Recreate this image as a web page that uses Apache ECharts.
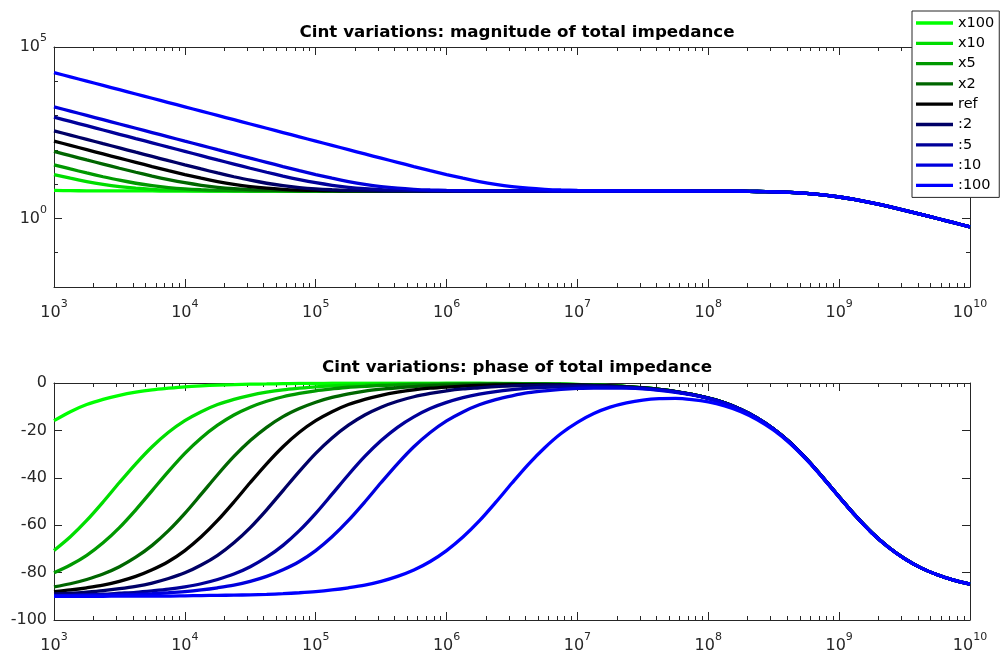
<!DOCTYPE html>
<html>
<head>
<meta charset="utf-8">
<script src="https://cdn.jsdelivr.net/npm/echarts@6/dist/echarts.min.js"></script>
<style>
  html, body { margin: 0; padding: 0; background: #fff; }
  #main { width: 1000px; height: 655px; }
</style>
</head>
<body>
<div id="main"></div>
<script>
// frequency as exponent of 10 (Hz), one row per decade
var logFreq = [
    3, 3.125, 3.25, 3.375, 3.5, 3.625, 3.75, 3.875,
    4, 4.125, 4.25, 4.375, 4.5, 4.625, 4.75, 4.875,
    5, 5.125, 5.25, 5.375, 5.5, 5.625, 5.75, 5.875,
    6, 6.125, 6.25, 6.375, 6.5, 6.625, 6.75, 6.875,
    7, 7.125, 7.25, 7.375, 7.5, 7.625, 7.75, 7.875,
    8, 8.125, 8.25, 8.375, 8.5, 8.625, 8.75, 8.875,
    9, 9.125, 9.25, 9.375, 9.5, 9.625, 9.75, 9.875,
    10];

var names = ['x100', 'x10', 'x5', 'x2', 'ref', ':2', ':5', ':10', ':100'];
var colors = ['#00ff00', '#00dd00', '#009900', '#006600', '#000000', '#000066', '#000099', '#0000dd', '#0000ff'];

// tick values
var magLabels = [0, 5];
var magMinor = [-1, 1, 2, 3, 4];

// log10 |Z|, upper plot
var magX100 = [
    0.817, 0.810, 0.806, 0.803, 0.802, 0.801, 0.801, 0.8,
    0.8, 0.8, 0.8, 0.8, 0.8, 0.8, 0.8, 0.8,
    0.8, 0.8, 0.8, 0.8, 0.8, 0.8, 0.8, 0.8,
    0.8, 0.8, 0.8, 0.8, 0.8, 0.8, 0.8, 0.8,
    0.8, 0.8, 0.8, 0.8, 0.8, 0.8, 0.799, 0.798,
    0.797, 0.795, 0.792, 0.785, 0.775, 0.757, 0.728, 0.685,
    0.625, 0.548, 0.455, 0.350, 0.237, 0.119, -0.002, -0.124,
    -0.248];
var magX10 = [
    1.280, 1.173, 1.076, 0.994, 0.929, 0.882, 0.850, 0.829,
    0.817, 0.810, 0.806, 0.803, 0.802, 0.801, 0.801, 0.8,
    0.8, 0.8, 0.8, 0.8, 0.8, 0.8, 0.8, 0.8,
    0.8, 0.8, 0.8, 0.8, 0.8, 0.8, 0.8, 0.8,
    0.8, 0.8, 0.8, 0.8, 0.8, 0.8, 0.799, 0.798,
    0.797, 0.795, 0.792, 0.785, 0.775, 0.757, 0.728, 0.685,
    0.625, 0.548, 0.455, 0.350, 0.237, 0.119, -0.002, -0.124,
    -0.248];
var magX5 = [
    1.563, 1.443, 1.326, 1.216, 1.114, 1.026, 0.954, 0.899,
    0.861, 0.837, 0.821, 0.812, 0.807, 0.804, 0.802, 0.801,
    0.801, 0.8, 0.8, 0.8, 0.8, 0.8, 0.8, 0.8,
    0.8, 0.8, 0.8, 0.8, 0.8, 0.8, 0.8, 0.8,
    0.8, 0.8, 0.8, 0.8, 0.8, 0.8, 0.799, 0.798,
    0.797, 0.795, 0.792, 0.785, 0.775, 0.757, 0.728, 0.685,
    0.625, 0.548, 0.455, 0.350, 0.237, 0.119, -0.002, -0.124,
    -0.248];
var magX2 = [
    1.956, 1.831, 1.707, 1.585, 1.464, 1.347, 1.235, 1.132,
    1.041, 0.966, 0.908, 0.867, 0.840, 0.824, 0.814, 0.808,
    0.804, 0.803, 0.801, 0.801, 0.8, 0.8, 0.8, 0.8,
    0.8, 0.8, 0.8, 0.8, 0.8, 0.8, 0.8, 0.8,
    0.8, 0.8, 0.8, 0.8, 0.8, 0.8, 0.799, 0.798,
    0.797, 0.795, 0.792, 0.785, 0.775, 0.757, 0.728, 0.685,
    0.625, 0.548, 0.455, 0.350, 0.237, 0.119, -0.002, -0.124,
    -0.248];
var magRef = [
    2.255, 2.131, 2.006, 1.882, 1.758, 1.635, 1.513, 1.395,
    1.280, 1.173, 1.076, 0.994, 0.929, 0.882, 0.850, 0.829,
    0.817, 0.810, 0.806, 0.803, 0.802, 0.801, 0.801, 0.8,
    0.8, 0.8, 0.8, 0.8, 0.8, 0.8, 0.8, 0.8,
    0.8, 0.8, 0.8, 0.8, 0.8, 0.8, 0.799, 0.798,
    0.797, 0.795, 0.792, 0.785, 0.775, 0.757, 0.728, 0.685,
    0.625, 0.548, 0.455, 0.350, 0.237, 0.119, -0.002, -0.124,
    -0.248];
var magD2 = [
    2.556, 2.431, 2.306, 2.181, 2.057, 1.932, 1.808, 1.685,
    1.563, 1.443, 1.326, 1.216, 1.114, 1.026, 0.954, 0.899,
    0.861, 0.837, 0.821, 0.812, 0.807, 0.804, 0.802, 0.801,
    0.801, 0.8, 0.8, 0.8, 0.8, 0.8, 0.8, 0.8,
    0.8, 0.8, 0.8, 0.8, 0.8, 0.8, 0.799, 0.798,
    0.797, 0.795, 0.792, 0.785, 0.775, 0.757, 0.728, 0.685,
    0.625, 0.548, 0.455, 0.350, 0.237, 0.119, -0.002, -0.124,
    -0.248];
var magD5 = [
    2.954, 2.829, 2.704, 2.579, 2.454, 2.329, 2.205, 2.080,
    1.956, 1.831, 1.707, 1.585, 1.464, 1.347, 1.235, 1.132,
    1.041, 0.966, 0.908, 0.867, 0.840, 0.824, 0.814, 0.808,
    0.804, 0.803, 0.801, 0.801, 0.8, 0.8, 0.8, 0.8,
    0.8, 0.8, 0.8, 0.8, 0.8, 0.8, 0.799, 0.798,
    0.797, 0.795, 0.792, 0.785, 0.775, 0.757, 0.728, 0.685,
    0.625, 0.548, 0.455, 0.350, 0.237, 0.119, -0.002, -0.124,
    -0.248];
var magD10 = [
    3.255, 3.130, 3.005, 2.880, 2.755, 2.630, 2.505, 2.380,
    2.255, 2.131, 2.006, 1.882, 1.758, 1.635, 1.513, 1.395,
    1.280, 1.173, 1.076, 0.994, 0.929, 0.882, 0.850, 0.829,
    0.817, 0.810, 0.806, 0.803, 0.802, 0.801, 0.801, 0.8,
    0.8, 0.8, 0.8, 0.8, 0.8, 0.8, 0.799, 0.798,
    0.797, 0.795, 0.792, 0.785, 0.775, 0.757, 0.728, 0.685,
    0.625, 0.548, 0.455, 0.350, 0.237, 0.119, -0.002, -0.124,
    -0.248];
var magD100 = [
    4.255, 4.130, 4.005, 3.880, 3.755, 3.630, 3.505, 3.380,
    3.255, 3.130, 3.005, 2.880, 2.755, 2.630, 2.505, 2.380,
    2.255, 2.131, 2.006, 1.882, 1.758, 1.635, 1.513, 1.395,
    1.280, 1.173, 1.076, 0.994, 0.929, 0.882, 0.850, 0.829,
    0.817, 0.810, 0.806, 0.803, 0.801, 0.801, 0.800, 0.799,
    0.797, 0.795, 0.792, 0.785, 0.775, 0.757, 0.728, 0.685,
    0.625, 0.548, 0.455, 0.350, 0.237, 0.119, -0.002, -0.124,
    -0.248];

// phase in degrees, lower plot
var phX100 = [
    -15.9, -12.1, -9.1, -6.9, -5.2, -3.9, -2.9, -2.2,
    -1.6, -1.2, -0.9, -0.7, -0.5, -0.4, -0.3, -0.2,
    -0.2, -0.1, -0.1, -0.1, -0.1, -0.1, -0.1, -0.1,
    -0.1, -0.1, -0.1, -0.2, -0.2, -0.3, -0.4, -0.5,
    -0.6, -0.9, -1.1, -1.5, -2.0, -2.7, -3.6, -4.8,
    -6.4, -8.4, -11.2, -14.8, -19.4, -25.1, -32.0, -39.8,
    -48.0, -56.0, -63.2, -69.2, -74.1, -78.0, -80.9, -83.2,
    -84.9];
var phX10 = [
    -70.7, -64.9, -58.0, -50.2, -42.0, -34.1, -26.9, -20.8,
    -15.9, -12.1, -9.1, -6.9, -5.2, -3.9, -2.9, -2.2,
    -1.6, -1.2, -0.9, -0.7, -0.5, -0.4, -0.3, -0.3,
    -0.2, -0.2, -0.2, -0.2, -0.3, -0.3, -0.4, -0.5,
    -0.7, -0.9, -1.1, -1.5, -2.0, -2.7, -3.6, -4.8,
    -6.4, -8.4, -11.2, -14.8, -19.4, -25.1, -32.0, -39.8,
    -48.0, -56.0, -63.2, -69.2, -74.1, -78.0, -80.9, -83.2,
    -84.9];
var phX5 = [
    -80.1, -76.8, -72.7, -67.4, -61.0, -53.5, -45.4, -37.3,
    -29.7, -23.2, -17.8, -13.5, -10.2, -7.7, -5.8, -4.4,
    -3.3, -2.5, -1.8, -1.4, -1.0, -0.8, -0.6, -0.5,
    -0.4, -0.3, -0.3, -0.3, -0.3, -0.4, -0.4, -0.5,
    -0.7, -0.9, -1.1, -1.5, -2.0, -2.7, -3.6, -4.8,
    -6.4, -8.4, -11.2, -14.8, -19.4, -25.1, -32.0, -39.8,
    -48.0, -56.0, -63.2, -69.2, -74.1, -78.0, -80.9, -83.2,
    -84.9];
var phX2 = [
    -86.0, -84.7, -82.9, -80.6, -77.5, -73.5, -68.5, -62.3,
    -55.0, -46.9, -38.7, -31.0, -24.3, -18.7, -14.2, -10.8,
    -8.1, -6.1, -4.6, -3.4, -2.6, -2.0, -1.5, -1.1,
    -0.9, -0.7, -0.6, -0.5, -0.5, -0.5, -0.5, -0.6,
    -0.7, -0.9, -1.2, -1.5, -2.0, -2.7, -3.6, -4.8,
    -6.4, -8.4, -11.2, -14.8, -19.4, -25.1, -32.0, -39.8,
    -48.0, -56.0, -63.2, -69.2, -74.1, -78.0, -80.9, -83.2,
    -84.9];
var phRef = [
    -88.0, -87.3, -86.4, -85.3, -83.7, -81.6, -78.8, -75.3,
    -70.7, -64.9, -58.0, -50.2, -42.0, -34.1, -26.9, -20.8,
    -15.9, -12.1, -9.1, -6.9, -5.2, -3.9, -2.9, -2.2,
    -1.7, -1.3, -1.0, -0.8, -0.7, -0.7, -0.7, -0.7,
    -0.8, -1.0, -1.2, -1.6, -2.1, -2.7, -3.6, -4.8,
    -6.4, -8.4, -11.2, -14.8, -19.4, -25.1, -32.0, -39.8,
    -48.0, -56.0, -63.2, -69.2, -74.1, -78.0, -80.9, -83.2,
    -84.9];
var phD2 = [
    -89.0, -88.7, -88.2, -87.6, -86.8, -85.8, -84.4, -82.5,
    -80.1, -76.8, -72.7, -67.4, -61.0, -53.5, -45.4, -37.3,
    -29.7, -23.2, -17.8, -13.5, -10.2, -7.7, -5.8, -4.4,
    -3.3, -2.5, -2.0, -1.5, -1.2, -1.0, -0.9, -0.9,
    -1.0, -1.1, -1.3, -1.7, -2.1, -2.8, -3.6, -4.8,
    -6.4, -8.4, -11.2, -14.8, -19.4, -25.1, -32.0, -39.8,
    -48.0, -56.0, -63.2, -69.2, -74.1, -78.0, -80.9, -83.2,
    -84.9];
var phD5 = [
    -89.6, -89.5, -89.3, -89.1, -88.7, -88.3, -87.7, -87.0,
    -86.0, -84.7, -82.9, -80.6, -77.5, -73.5, -68.5, -62.3,
    -55.0, -46.9, -38.7, -31.0, -24.3, -18.7, -14.3, -10.8,
    -8.2, -6.2, -4.7, -3.6, -2.8, -2.2, -1.8, -1.6,
    -1.5, -1.5, -1.6, -1.9, -2.3, -2.9, -3.7, -4.9,
    -6.4, -8.5, -11.2, -14.8, -19.4, -25.1, -32.0, -39.8,
    -48.0, -56.0, -63.2, -69.2, -74.1, -78.0, -80.9, -83.2,
    -84.9];
var phD10 = [
    -89.8, -89.7, -89.6, -89.5, -89.4, -89.2, -88.9, -88.5,
    -88.0, -87.3, -86.4, -85.3, -83.7, -81.6, -78.8, -75.3,
    -70.7, -64.9, -58.0, -50.2, -42.0, -34.1, -26.9, -20.9,
    -16.0, -12.2, -9.2, -7.0, -5.4, -4.1, -3.3, -2.7,
    -2.3, -2.1, -2.1, -2.2, -2.5, -3.1, -3.9, -5.0,
    -6.5, -8.6, -11.3, -14.8, -19.4, -25.2, -32.0, -39.8,
    -48.0, -56.0, -63.2, -69.2, -74.1, -78.0, -80.9, -83.2,
    -84.9];
var phD100 = [
    -90.0, -90.0, -90.0, -90.0, -89.9, -89.9, -89.9, -89.9,
    -89.8, -89.7, -89.6, -89.5, -89.4, -89.2, -88.9, -88.5,
    -88.0, -87.3, -86.4, -85.3, -83.7, -81.6, -78.9, -75.3,
    -70.7, -65.0, -58.2, -50.4, -42.2, -34.3, -27.3, -21.3,
    -16.6, -12.9, -10.2, -8.4, -7.2, -6.6, -6.5, -7.0,
    -8.0, -9.7, -12.1, -15.5, -19.9, -25.5, -32.3, -40.0,
    -48.2, -56.1, -63.3, -69.3, -74.2, -78.0, -80.9, -83.2,
    -84.9];

var magList = [magX100, magX10, magX5, magX2, magRef, magD2, magD5, magD10, magD100];
var phList = [phX100, phX10, phX5, phX2, phRef, phD2, phD5, phD10, phD100];

var axisColor = '#262626';
var font = 'DejaVu Sans';

// minor ticks at 2..9 of each decade
var xMinor = [];
for (var n = 3; n < 10; n++) {
    for (var k = 2; k <= 9; k++) {
        xMinor.push(n + Math.log10(k));
    }
}

var expRich = {
    b: {fontSize: 16, fontFamily: font, color: axisColor},
    s: {fontSize: 11, fontFamily: font, color: axisColor, padding: [0, 0, 17, 0]}
};
function expLabel(v) {
    return '{b|10}{s|' + v + '}';
}

function xAxisPair(grid, pos, withLabel) {
    return [
        {
            type: 'value', gridIndex: grid, position: pos, min: 3, max: 10, interval: 1,
            axisLine: {show: true, onZero: false, lineStyle: {color: axisColor, width: 1}},
            axisTick: {show: true, inside: true, length: 8, lineStyle: {color: axisColor}},
            axisLabel: {show: withLabel, margin: 12, formatter: expLabel, rich: expRich},
            splitLine: {show: false}
        },
        {
            type: 'value', gridIndex: grid, position: pos, min: 3, max: 10,
            axisLine: {show: false, onZero: false},
            axisTick: {show: true, inside: true, length: 4, customValues: xMinor, lineStyle: {color: axisColor}},
            axisLabel: {show: false},
            splitLine: {show: false}
        }
    ];
}

var xAxes = [].concat(
    xAxisPair(0, 'bottom', true), xAxisPair(0, 'top', false),
    xAxisPair(1, 'bottom', true), xAxisPair(1, 'top', false)
);

function magYAxis(pos, withLabel) {
    return [
        {
            type: 'value', gridIndex: 0, position: pos, min: -2, max: 5,
            axisLine: {show: true, onZero: false, lineStyle: {color: axisColor, width: 1}},
            axisTick: {show: true, inside: true, length: 8, customValues: magLabels, lineStyle: {color: axisColor}},
            axisLabel: {show: withLabel, margin: 7, customValues: magLabels, formatter: expLabel, rich: expRich},
            splitLine: {show: false}
        },
        {
            type: 'value', gridIndex: 0, position: pos, min: -2, max: 5,
            axisLine: {show: false, onZero: false},
            axisTick: {show: true, inside: true, length: 4, customValues: magMinor, lineStyle: {color: axisColor}},
            axisLabel: {show: false},
            splitLine: {show: false}
        }
    ];
}

function phaseYAxis(pos, withLabel) {
    return {
        type: 'value', gridIndex: 1, position: pos, min: -100, max: 0, interval: 20,
        axisLine: {show: true, onZero: false, lineStyle: {color: axisColor, width: 1}},
        axisTick: {show: true, inside: true, length: 8, lineStyle: {color: axisColor}},
        axisLabel: {show: withLabel, margin: 7, fontSize: 16, fontFamily: font, color: axisColor},
        splitLine: {show: false}
    };
}

var yAxes = [].concat(magYAxis('left', true), magYAxis('right', false),
    [phaseYAxis('left', true), phaseYAxis('right', false)]);

var series = [];
for (var i = 0; i < names.length; i++) {
    series.push({
        name: names[i], type: 'line', xAxisIndex: 0, yAxisIndex: 0,
        data: logFreq.map(function (x, j) { return [x, magList[i][j]]; }),
        symbol: 'none', smooth: 0.3,
        lineStyle: {width: 3.3, color: colors[i]}, itemStyle: {color: colors[i]}
    });
}
for (var i = 0; i < names.length; i++) {
    series.push({
        name: names[i], type: 'line', xAxisIndex: 4, yAxisIndex: 4,
        data: logFreq.map(function (x, j) { return [x, phList[i][j]]; }),
        symbol: 'none', smooth: 0.3,
        lineStyle: {width: 3.3, color: colors[i]}, itemStyle: {color: colors[i]}
    });
}

var myChart = echarts.init(document.getElementById('main'));
var option = {
    animation: false,
    backgroundColor: '#ffffff',
    title: [
        {text: 'Cint variations: magnitude of total impedance', left: 512, textAlign: 'center', top: 19,
            textStyle: {fontSize: 16.7, fontWeight: 'bold', fontFamily: font, color: '#000'}},
        {text: 'Cint variations: phase of total impedance', left: 512, textAlign: 'center', top: 354,
            textStyle: {fontSize: 16.7, fontWeight: 'bold', fontFamily: font, color: '#000'}}
    ],
    legend: {
        orient: 'vertical', left: 912, top: 11,
        padding: [4, 5, 4, 4],
        backgroundColor: '#ffffff', borderColor: axisColor, borderWidth: 1,
        icon: 'rect', itemWidth: 37, itemHeight: 3.3, itemGap: 4.3,
        data: names,
        textStyle: {fontSize: 14.5, fontFamily: font, color: '#000', lineHeight: 16}
    },
    grid: [
        {left: 54, right: 30, top: 47, height: 240},
        {left: 54, right: 30, top: 383, height: 237}
    ],
    xAxis: xAxes,
    yAxis: yAxes,
    series: series
};
myChart.setOption(option);
</script>
</body>
</html>
